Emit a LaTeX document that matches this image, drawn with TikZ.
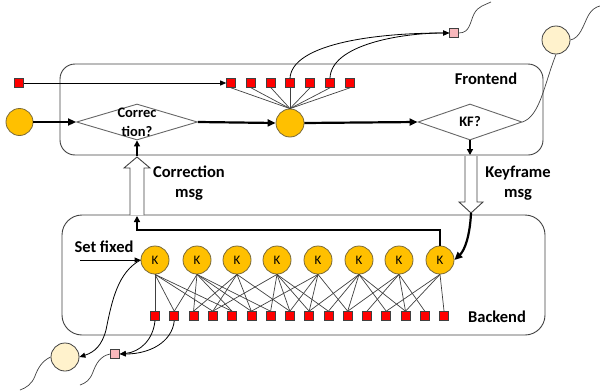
\documentclass[tikz,border=0pt]{standalone}
\usepackage{fontspec}
\setmainfont{Carlito}
\usetikzlibrary{arrows.meta,shapes.geometric}
\definecolor{kfill}{HTML}{FFC000}
\definecolor{kdraw}{HTML}{7A6A3A}
\definecolor{lmred}{HTML}{FF0000}
\definecolor{pinkf}{HTML}{F8B8BC}
\definecolor{palef}{HTML}{FFF2CC}
\definecolor{ln}{HTML}{404040}
\begin{document}
\begin{tikzpicture}[x=1pt,y=-1pt,
  kfn/.style={circle,fill=kfill,draw=kdraw,line width=0.8pt,minimum size=28pt,inner sep=0pt,font=\fontsize{13}{13}\selectfont},
  lmk/.style={rectangle,fill=lmred,draw=ln,line width=0.6pt,minimum size=9pt,inner sep=0pt},
  pinksq/.style={rectangle,fill=pinkf,draw=ln,line width=0.6pt,minimum size=9pt,inner sep=0pt},
  palec/.style={circle,fill=palef,draw=ln,line width=0.8pt,minimum size=28pt,inner sep=0pt},
  panel/.style={rectangle,draw=ln,line width=0.9pt,inner sep=0pt},
  dia/.style={diamond,draw=ln!80,line width=0.9pt,inner sep=0pt,minimum width=#1,minimum height=36pt},
  thinl/.style={draw=ln,line width=0.7pt},
  thickarr/.style={line width=2.2pt,-{Triangle[length=8pt,width=7pt]}},
  thinarr/.style={draw=black,line width=0.8pt,-{Triangle[length=6pt,width=5pt]}},
  hollow/.style={draw=ln,line width=0.9pt,fill=white},
  lbl/.style={font=\bfseries\fontsize{16.5}{20}\selectfont,align=center,inner sep=0pt},
  dlbl/.style={font=\bfseries\fontsize{14.5}{19}\selectfont,align=center,inner sep=0pt}
]
\useasboundingbox (0,0) rectangle (600,391);

% panels
\node[panel,rounded corners=15pt,minimum width=483pt,minimum height=91pt] (fe) at (301.5,109.5) {};
\node[panel,rounded corners=20pt,minimum width=483pt,minimum height=120pt] (be) at (303.5,275) {};
\node[lbl] (fet) at (486,79) {Frontend};
\node[lbl] (bet) at (497,317) {Backend};

% frontend row
\node[kfn,minimum size=27pt] (lc) at (19.5,122) {};
\node[dia=121pt] (cd) at (137,122) {};
\node[dlbl] (cdt) at (137,122) {Correc\\tion?};
\node[kfn] (fc) at (290,123) {};
\node[dia=104pt] (kd) at (470,122) {};
\node[dlbl] (kdt) at (470,122) {KF?};

\draw[thickarr] (lc.east) -- (cd.west);
\draw[thickarr] (cd.east) -- (fc.west);
\draw[thickarr] (fc.east) -- (kd.west);
\coordinate (kfout) at (470,155);
\draw[line width=1.6pt,-{Triangle[length=6pt,width=6pt]}] (kd.south) -- (kfout);

% frontend landmarks
\node[lmk] (src) at (19,83) {};
\foreach \i/\x in {1/231,2/251,3/271,4/290,5/310,6/330,7/350} {
  \node[lmk] (f\i) at (\x,83) {};
  \draw[thinl] (f\i.south) -- (fc.north);
}
\draw[thinarr] (src.east) -- (f1.west);

% pink square top
\node[pinksq] (pt) at (454,33) {};
\draw[thinarr] (f4.north) .. controls (292,45) and (370,33) .. (pt.west);
\draw[thinarr] (f6.north) .. controls (331,45) and (400,33) .. (pt.west);
\coordinate (ptw) at (491,2);
\draw[thinl] (pt.east) .. controls (470,33) and (470,22) .. (474,14) .. controls (478,6) and (485,5) .. (ptw);

% pale circle top right
\node[palec] (pc) at (556,40) {};
\draw[thinl] (kd.east) .. controls (540,116) and (544,85) .. (pc.south);
\coordinate (pcw) at (600,6);
\draw[thinl] (pc.east) .. controls (580,38) and (583,26) .. (588,16) .. controls (592,9) and (596,7) .. (pcw);

% hollow arrows
\draw[hollow] (130,215) -- (130,168) -- (124,168) -- (137,157) -- (150,168) -- (144,168) -- (144,215);
\coordinate (corrtip) at (137,156);
\draw[line width=1.6pt,-{Triangle[length=6pt,width=6pt]}] (corrtip) -- (cd.south);
\draw[hollow] (465,156) -- (465,202) -- (459,202) -- (471,213) -- (483,202) -- (477,202) -- (477,156);
\coordinate (kftip) at (471,213);
\node[lbl] (cm) at (189,183) {Correction\\msg};
\node[lbl] (km) at (518,183) {Keyframe\\msg};

% keyframes
\foreach \i/\x in {1/155,2/197,3/237,4/277,5/318,6/359,7/399,8/440} {
  \node[kfn] (k\i) at (\x,260) {K};
}
\draw[thickarr] (kftip) .. controls (470,235) and (465,250) .. (k8.east);
\coordinate (bk1) at (440,230);
\coordinate (bk2) at (137,230);
\coordinate (bk3) at (137,216);
\draw[line width=2.2pt,-{Triangle[length=6pt,width=6pt]}] (k8.north) -- (bk1) -- (bk2) -- (bk3);

% backend landmarks
\foreach \j in {0,...,15} {
  \pgfmathsetmacro{\xx}{155+19.27*\j}
  \node[lmk] (l\j) at (\xx,316) {};
}
\foreach \k/\ls in {1/{0,1,3,4},2/{1,2,4,5,6},3/{2,3,5,7},4/{3,6,7,8,9},5/{5,7,8,10},6/{8,9,10,12,13},7/{10,11,13,14},8/{12,13,15}} {
  \foreach \l in \ls {
    \draw[thinl] (k\k.south) -- (l\l.north);
  }
}

% set fixed
\node[lbl] (sf) at (104,247) {Set fixed};
\coordinate (sfs) at (80,260);
\draw[thinarr] (sfs) -- (k1.west);

% bottom left pale circle and pink square
\node[palec] (bc) at (65,357) {};
\node[pinksq] (pb) at (115,354) {};
\draw[thinarr] (k1.west) .. controls (118,272) and (112,300) .. (106,330) .. controls (102,345) and (95,352) .. (bc.east);
\draw[thinarr] (l0.south) .. controls (153,340) and (140,352) .. (pb.east);
\draw[thinarr] (l1.south) .. controls (172,342) and (150,354) .. (pb.east);
\coordinate (bcw) at (20,390);
\draw[thinl] (bc.west) .. controls (42,361) and (38,368) .. (35,376) .. controls (32,384) and (26,388) .. (bcw);
\coordinate (pbw) at (80,385);
\draw[thinl] (pb.west) .. controls (100,356) and (96,364) .. (93,372) .. controls (90,380) and (86,383) .. (pbw);
\end{tikzpicture}
\end{document}
